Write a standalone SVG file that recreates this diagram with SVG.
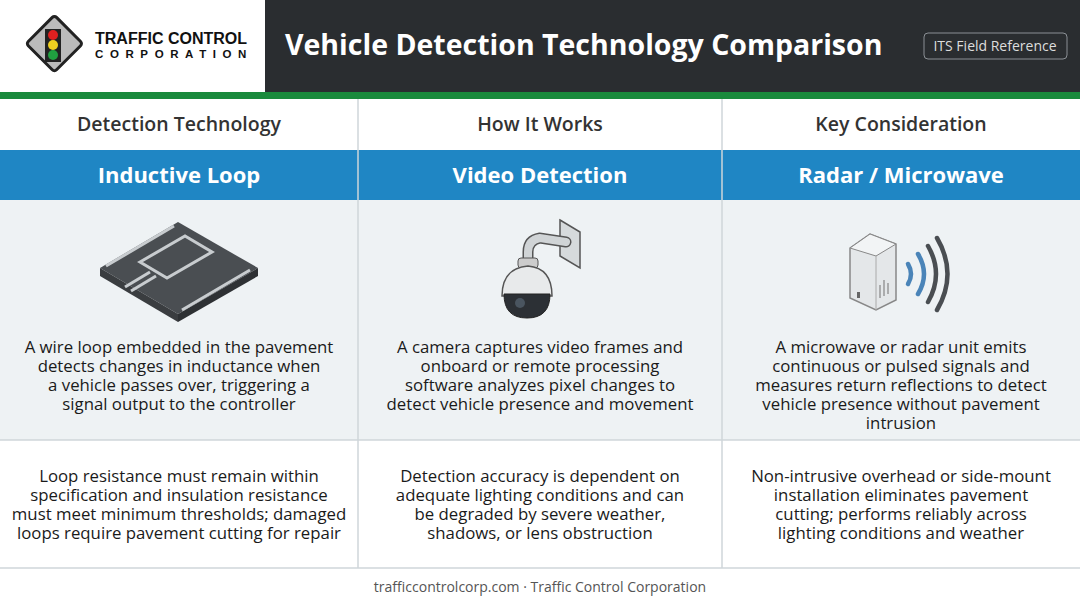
<svg xmlns="http://www.w3.org/2000/svg" width="1080" height="603" viewBox="0 0 1080 603">
<style>
.t{font-family:"Open Sans","Noto Sans","Liberation Sans",sans-serif}
.ch{font-size:19.5px;fill:#333;text-anchor:middle;font-weight:600}
.bh{font-size:22px;fill:#fff;text-anchor:middle;font-weight:700}
.d{font-size:16.8px;fill:#1a1a1a;text-anchor:middle}
.div{stroke:#cfd6da;stroke-width:1.5}
</style>
<rect width="1080" height="603" fill="#fff"/>
<rect x="265" y="0" width="815" height="92" fill="#2a2d30"/>
<rect x="0" y="92" width="1080" height="7" fill="#1a8a3c"/>
<g id="logo">
<rect x="33" y="23" width="40" height="40" transform="rotate(45 53 45)" fill="#bbb" stroke="#222" stroke-width="3" rx="3"/>
<rect x="45" y="29" width="16" height="33" fill="#222"/>
<circle cx="53" cy="35" r="5" fill="#e02020"/><circle cx="53" cy="45" r="5" fill="#f0d020"/><circle cx="53" cy="55" r="5" fill="#20a040"/>
<text x="95" y="44" font-family="Liberation Sans,Arial,sans-serif" font-weight="700" font-size="16" fill="#111">TRAFFIC CONTROL</text>
<text x="95" y="58" font-family="Liberation Sans,Arial,sans-serif" font-weight="700" font-size="11.5" fill="#111" letter-spacing="6.6">CORPORATION</text>
</g>
<text x="285" y="55" class="t" font-size="28.5" font-weight="700" fill="#fff">Vehicle Detection Technology Comparison</text>
<rect x="924" y="33" width="143" height="26" rx="4" fill="none" stroke="#8a8f94"/>
<text x="995" y="51" class="t" font-size="14" fill="#ddd" text-anchor="middle">ITS Field Reference</text>
<rect x="0" y="150" width="1080" height="50" fill="#1f86c4"/>
<rect x="0" y="200" width="1080" height="240" fill="#eef2f4"/>
<line x1="0" y1="440" x2="1080" y2="440" class="div"/>
<line x1="0" y1="568" x2="1080" y2="568" class="div"/>
<line x1="358" y1="99" x2="358" y2="568" class="div"/>
<line x1="722" y1="99" x2="722" y2="568" class="div"/>
<g class="t">
<text x="179" y="131" class="ch">Detection Technology</text>
<text x="540" y="131" class="ch">How It Works</text>
<text x="901" y="131" class="ch">Key Consideration</text>
<text x="179" y="183" class="bh">Inductive Loop</text>
<text x="540" y="183" class="bh">Video Detection</text>
<text x="901" y="183" class="bh">Radar / Microwave</text>
</g>
<g id="icon-loop">
<polygon points="100,268 178,222 258,268 178,314" fill="#4a4e52"/>
<polygon points="100,268 178,314 178,322 100,276" fill="#3a3d40"/>
<polygon points="178,314 258,268 258,276 178,322" fill="#2e3134"/>
<g fill="none" stroke="#c8cccf" stroke-width="3">
<line x1="106" y1="266" x2="174" y2="226"/>
<line x1="182" y1="310" x2="250" y2="270"/>
<polygon points="140,262 185,236 212,252 167,278"/>
<line x1="150" y1="272" x2="125" y2="287"/>
<line x1="156" y1="276" x2="131" y2="291"/>
</g>
</g>
<g id="icon-camera">
<polygon points="560,220 580,232 580,268 560,256" fill="#d6dadc" stroke="#555" stroke-width="1.5"/>
<path d="M566,242 L540,238 Q528,240 528,252 L528,262" fill="none" stroke="#555" stroke-width="11" stroke-linecap="round"/>
<path d="M566,242 L540,238 Q528,240 528,252 L528,262" fill="none" stroke="#d0d4d6" stroke-width="8" stroke-linecap="round"/>
<rect x="518" y="258" width="20" height="10" rx="3" fill="#ccc" stroke="#555"/>
<path d="M502,296 Q502,268 528,266 Q552,268 552,296 Z" fill="#e8eaeb" stroke="#555" stroke-width="1.5"/>
<path d="M504,294 L550,294 Q550,318 527,318 Q504,318 504,294 Z" fill="#2c3035" stroke="#222"/>
<circle cx="520" cy="303" r="5" fill="#4a5560"/>
</g>
<g id="icon-radar">
<polygon points="850,248 870,234 896,244 896,300 876,310 850,298" fill="#e4e7e9" stroke="#888" stroke-width="1.5"/>
<polygon points="850,248 870,234 896,244 876,256" fill="#f2f4f5" stroke="#888"/>
<line x1="876" y1="256" x2="876" y2="310" stroke="#aaa"/>
<g stroke="#999" stroke-width="1.5"><line x1="880" y1="285" x2="880" y2="298"/><line x1="884" y1="280" x2="884" y2="296"/><line x1="888" y1="283" x2="888" y2="294"/></g>
<rect x="857" y="292" width="3" height="6" fill="#666"/>
<g fill="none" stroke-linecap="round" stroke-width="4.5">
<path d="M908,264 Q914,274 908,284" stroke="#4a84b8"/>
<path d="M918,254 Q930,274 918,294" stroke="#4a84b8"/>
<path d="M928,246 Q944,274 928,302" stroke="#4a4e52"/>
<path d="M937,238 Q958,274 937,310" stroke="#4a4e52"/>
</g>
</g>
<g class="t">
<text class="d" x="179" y="353">A wire loop embedded in the pavement</text>
<text class="d" x="179" y="372">detects changes in inductance when</text>
<text class="d" x="179" y="391">a vehicle passes over, triggering a</text>
<text class="d" x="179" y="410">signal output to the controller</text>
<text class="d" x="540" y="353">A camera captures video frames and</text>
<text class="d" x="540" y="372">onboard or remote processing</text>
<text class="d" x="540" y="391">software analyzes pixel changes to</text>
<text class="d" x="540" y="410">detect vehicle presence and movement</text>
<text class="d" x="901" y="353">A microwave or radar unit emits</text>
<text class="d" x="901" y="372">continuous or pulsed signals and</text>
<text class="d" x="901" y="391">measures return reflections to detect</text>
<text class="d" x="901" y="410">vehicle presence without pavement</text>
<text class="d" x="901" y="429">intrusion</text>
<text class="d" x="179" y="482">Loop resistance must remain within</text>
<text class="d" x="179" y="501">specification and insulation resistance</text>
<text class="d" x="179" y="520">must meet minimum thresholds; damaged</text>
<text class="d" x="179" y="539">loops require pavement cutting for repair</text>
<text class="d" x="540" y="482">Detection accuracy is dependent on</text>
<text class="d" x="540" y="501">adequate lighting conditions and can</text>
<text class="d" x="540" y="520">be degraded by severe weather,</text>
<text class="d" x="540" y="539">shadows, or lens obstruction</text>
<text class="d" x="901" y="482">Non-intrusive overhead or side-mount</text>
<text class="d" x="901" y="501">installation eliminates pavement</text>
<text class="d" x="901" y="520">cutting; performs reliably across</text>
<text class="d" x="901" y="539">lighting conditions and weather</text>
<text x="540" y="592" font-size="14" fill="#555" text-anchor="middle">trafficcontrolcorp.com · Traffic Control Corporation</text>
</g>
</svg>
